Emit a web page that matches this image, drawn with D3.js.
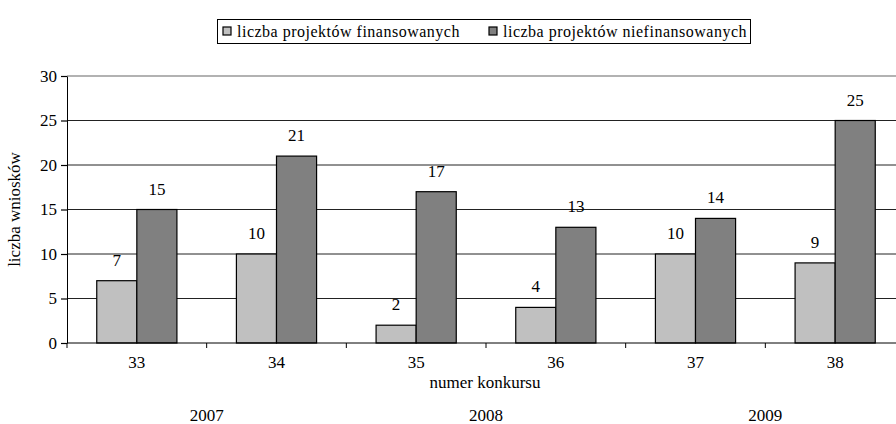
<!DOCTYPE html>
<html>
<head>
<meta charset="utf-8">
<script src="https://cdn.jsdelivr.net/npm/d3@7"></script>
<style>
  body { margin: 0; background: #fff; }
  svg { display: block; }
</style>
</head>
<body>
<svg width="896" height="424"></svg>
<script>
var konkursy = ['33', '34', '35', '36', '37', '38'];
var finansowane = [7, 10, 2, 4, 10, 9];
var niefinansowane = [15, 21, 17, 13, 14, 25];
var lata = ['2007', '2008', '2009'];
var lataMiedzy = [['33', '34'], ['35', '36'], ['37', '38']];
var yTicks = [0, 5, 10, 15, 20, 25, 30];
var serie = ['liczba projektów finansowanych', 'liczba projektów niefinansowanych'];
var kolory = ['#c0c0c0', '#808080'];

var FONT = '"Liberation Serif", "Times New Roman", serif';

var svg = d3.select('svg');

// plot area runs past the right edge, like in the original picture
var pLeft = 67, pRight = 905, pTop = 76, pBottom = 343;

var x = d3.scaleBand().domain(konkursy).range([pLeft, pRight]);
var y = d3.scaleLinear().domain([0, 30]).range([pBottom, pTop]);
var barW = x.bandwidth() * 0.287;

// grid
svg.append('g').selectAll('line')
    .data(yTicks.filter(function(d) { return d > 0 && d < 30; }))
    .enter().append('line')
    .attr('x1', pLeft).attr('x2', pRight)
    .attr('y1', function(d) { return y(d); })
    .attr('y2', function(d) { return y(d); })
    .attr('stroke', '#222').attr('stroke-width', 1);

svg.append('line')
    .attr('x1', pLeft).attr('x2', pRight)
    .attr('y1', y(30)).attr('y2', y(30))
    .attr('stroke', '#999').attr('stroke-width', 1.5);

// bars
var grupy = svg.selectAll('.grupa')
    .data(konkursy)
    .enter().append('g')
    .attr('class', 'grupa');

grupy.append('rect')
    .attr('x', function(d) { return x(d) + x.bandwidth() / 2 - barW; })
    .attr('y', function(d, i) { return y(finansowane[i]); })
    .attr('width', barW)
    .attr('height', function(d, i) { return y(0) - y(finansowane[i]); })
    .attr('fill', kolory[0]).attr('stroke', '#000').attr('stroke-width', 1.2);

grupy.append('rect')
    .attr('x', function(d) { return x(d) + x.bandwidth() / 2; })
    .attr('y', function(d, i) { return y(niefinansowane[i]); })
    .attr('width', barW)
    .attr('height', function(d, i) { return y(0) - y(niefinansowane[i]); })
    .attr('fill', kolory[1]).attr('stroke', '#000').attr('stroke-width', 1.2);

grupy.append('text')
    .attr('x', function(d) { return x(d) + x.bandwidth() / 2 - barW / 2; })
    .attr('y', function(d, i) { return y(finansowane[i]) - 15; })
    .attr('text-anchor', 'middle')
    .text(function(d, i) { return finansowane[i]; });

grupy.append('text')
    .attr('x', function(d) { return x(d) + x.bandwidth() / 2 + barW / 2; })
    .attr('y', function(d, i) { return y(niefinansowane[i]) - 15; })
    .attr('text-anchor', 'middle')
    .text(function(d, i) { return niefinansowane[i]; });

// axes
var yAxis = svg.append('g')
    .attr('transform', 'translate(' + pLeft + ',0)')
    .call(d3.axisLeft(y).tickValues(yTicks).tickSize(6).tickSizeOuter(0).tickPadding(4));
yAxis.selectAll('.tick line').attr('stroke-width', 1.2);

var xAxis = svg.append('g')
    .attr('transform', 'translate(0,' + pBottom + ')')
    .call(d3.axisBottom(x).tickSize(0).tickPadding(13));
xAxis.select('.domain').attr('d', 'M' + pLeft + ',0H' + pRight);
xAxis.selectAll('.bound')
    .data(d3.range(konkursy.length + 1))
    .enter().append('line')
    .attr('x1', function(d) { return pLeft + d * x.step(); })
    .attr('x2', function(d) { return pLeft + d * x.step(); })
    .attr('y1', 0).attr('y2', 5)
    .attr('stroke', '#000');

svg.append('text')
    .attr('x', 485).attr('y', 388)
    .attr('text-anchor', 'middle')
    .text('numer konkursu');

svg.selectAll('.rok')
    .data(lata)
    .enter().append('text')
    .attr('x', function(d, i) { return x(lataMiedzy[i][1]); })
    .attr('y', 421)
    .attr('text-anchor', 'middle')
    .text(function(d) { return d; });

svg.append('text')
    .attr('transform', 'translate(20,' + (pTop + pBottom) / 2 + ') rotate(-90)')
    .attr('text-anchor', 'middle')
    .text('liczba wniosków');

// legend
var leg = svg.append('g');
leg.append('rect')
    .attr('x', 217.5).attr('y', 19.5).attr('width', 533).attr('height', 24)
    .attr('fill', '#fff').attr('stroke', '#000');

var legX = [223, 489];
serie.forEach(function(s, i) {
    leg.append('rect')
        .attr('x', legX[i]).attr('y', 27).attr('width', 8).attr('height', 8)
        .attr('fill', kolory[i]).attr('stroke', '#000').attr('stroke-width', 1.2);
    leg.append('text')
        .attr('class', 'leg')
        .attr('x', legX[i] + 14).attr('y', 37)
        .text(s);
});

svg.selectAll('g').attr('font-family', null).attr('font-size', null);
svg.selectAll('text')
    .style('font-family', FONT)
    .style('font-size', '17px')
    .style('fill', '#000');
svg.selectAll('text.leg').style('font-size', '16px').style('letter-spacing', '0.5px');
</script>
</body>
</html>
